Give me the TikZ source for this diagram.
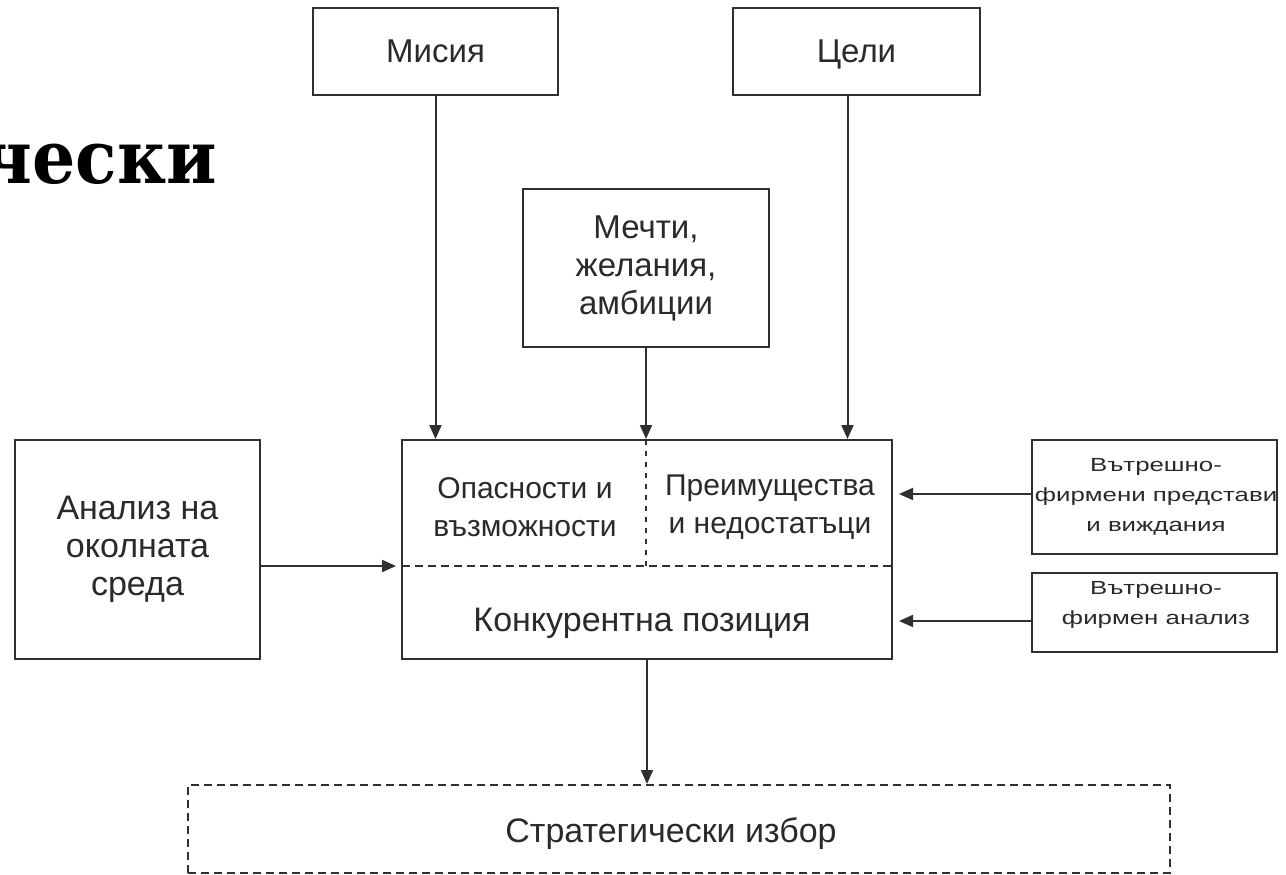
\documentclass[tikz,border=0pt]{standalone}
\usepackage{fontspec}
\setmainfont{Liberation Sans}
\newfontfamily\titlefont[FakeStretch=0.92]{DejaVu Serif}
\newfontfamily\widefont[FakeStretch=1.36]{Liberation Sans}
\usetikzlibrary{arrows.meta}
\definecolor{ink}{HTML}{2A2A2A}
\definecolor{linec}{HTML}{303030}
\begin{document}
\begin{tikzpicture}[x=1pt,y=-1pt,
  box/.style={draw=linec, line width=2pt, fill=white, inner sep=0pt, align=center,
    text=ink, font=\fontsize{33}{38}\selectfont},
  onebox/.style={box, text height=27pt, text depth=4pt},
  dbox/.style={box, dash pattern=on 8pt off 5pt},
  txt/.style={inner sep=0pt, align=center, text=ink, font=\fontsize{33}{38}\selectfont},
  smalltxt/.style={inner sep=0pt, align=center, text=ink, font=\widefont\fontsize{19}{30}\selectfont},
  divider/.style={draw=linec, line width=2pt, dash pattern=on 8pt off 5pt},
  vdivider/.style={draw=linec, line width=2.5pt, dash pattern=on 5pt off 6pt},
  arr/.style={draw=linec, line width=2pt, -{Triangle[length=14pt,width=12pt]}}
]
\clip (0,0) rectangle (1286,875);
\fill[white] (0,0) rectangle (1286,875);

% title fragment
\node[inner sep=0pt, anchor=base east, font=\titlefont\bfseries\fontsize{74}{80}\selectfont] (title) at (217,183) {чески};

% boxes
\node[onebox, minimum width=245pt, minimum height=87pt] (misia) at (435.5,51.5) {Мисия};
\node[onebox, minimum width=247pt, minimum height=87pt] (celi) at (856.5,51.5) {Цели};
\node[box, minimum width=246pt, minimum height=158pt] (dreams) at (646,268) {Мечти,\\желания,\\амбиции};
\node[box, minimum width=245pt, minimum height=219pt, font=\fontsize{34}{38}\selectfont] (env) at (137.5,549.5) {Анализ на\\околната\\среда};
\node[box, minimum width=490pt, minimum height=219pt] (core) at (647,549.5) {};
\node[box, minimum width=245pt, minimum height=114pt] (r1) at (1154.5,497) {};
\node[box, minimum width=245pt, minimum height=79pt] (r2) at (1154.5,612.5) {};
\node[dbox, minimum width=982pt, minimum height=88pt] (choice) at (679,829) {};

% dividers inside core
\coordinate (divL) at (402,566);
\coordinate (divR) at (892,566);
\coordinate (divT) at (646,440);
\coordinate (divB) at (646,566);
\draw[divider] (divL) -- (divR);
\draw[vdivider] (divT) -- (divB);

% texts
\node[txt, font=\fontsize{30}{38}\selectfont] (opas) at (525,507) {Опасности и\\възможности};
\node[txt, font=\fontsize{30}{38}\selectfont] (preim) at (770,507) {Преимущества\\и недостатъци};
\node[txt, font=\fontsize{34}{38}\selectfont] (konk) at (642,623) {Конкурентна позиция};
\node[txt, font=\fontsize{34}{38}\selectfont] (choicet) at (671,834) {Стратегически избор};
\node[smalltxt] (r1t) at (1156,497) {Вътрешно-\\фирмени представи\\и виждания};
\node[smalltxt] (r2t) at (1156,605) {Вътрешно-\\фирмен анализ};

% connectors
\draw[arr] (misia.south) -- (misia.south |- core.north);
\draw[arr] ([xshift=-9pt]celi.south) -- ([xshift=-9pt]celi.south |- core.north);
\draw[arr] (dreams.south) -- (dreams.south |- core.north);
\draw[arr] (env.east |- divL) -- ([xshift=-6pt]divL);
\draw[arr] ([yshift=3pt]r1.west) -- ([xshift=6pt,yshift=3pt]r1.west -| core.east);
\draw[arr] ([yshift=-8.5pt]r2.west) -- ([xshift=6pt,yshift=-8.5pt]r2.west -| core.east);
\draw[arr] (core.south) -- (core.south |- choice.north);
\end{tikzpicture}
\end{document}
